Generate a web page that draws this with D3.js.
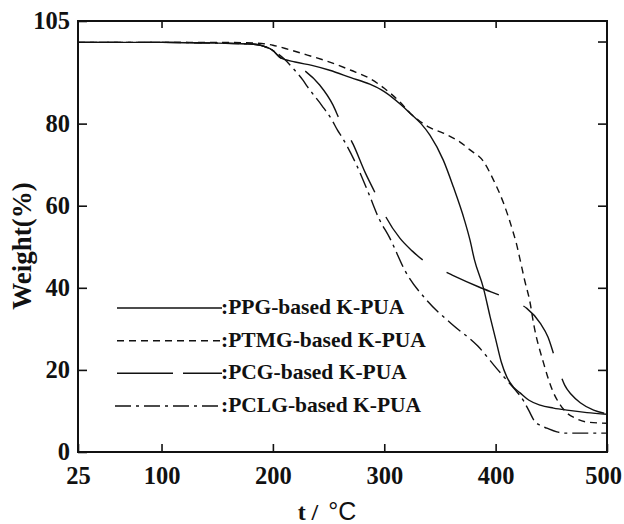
<!DOCTYPE html>
<html>
<head>
<meta charset="utf-8">
<script src="https://d3js.org/d3.v7.min.js"></script>
<style>
body { margin: 0; background: #fff; }
svg text { font-family: "Liberation Serif", "Times New Roman", serif; font-weight: bold; fill: #111; }
.curve { fill: none; stroke: #111; stroke-width: 1.4; }
</style>
</head>
<body>
<svg width="624" height="524"></svg>
<script>

// weight loss curves, [temperature C, weight %]
var xTicks = [25, 100, 200, 300, 400, 500];
var yTicks = [0, 20, 40, 60, 80, 105];
var names = [":PPG-based K-PUA", ":PTMG-based K-PUA", ":PCG-based K-PUA", ":PCLG-based K-PUA"];

var ppg = [[25,99.8],[100,99.8],[150,99.6],[180,99.4],[190,99],[200,97.8],[206,96.2],[220,95],[235,94.2],
  [251,93],[270,91.2],[287,89.6],[300,87.8],[315,84.6],[323,82.6],[333,80],[341,77.2],[353,71.1],[362,64.6],
  [372,56.5],[377,51.6],[381,46.8],[389,40],[395,33],[400,27.5],[405,22],[410,18.3],[416,15.8],[422,14.4],
  [430,12.6],[440,11.4],[452,10.7],[464,10.2],[482,9.6],[500,9.2]];
var ptmg = [[25,99.8],[100,99.8],[150,99.8],[185,99.6],[200,99.1],[215,98],[231,96.7],[251,95],[270,93],
  [287,91],[300,88.6],[315,85],[323,82.6],[330,81],[341,79],[353,77.7],[368,75.5],[377,73.6],[389,70.8],
  [398,66.3],[407,60.7],[416,53.3],[419,50.4],[422,46.8],[426,41.9],[431,36.3],[434,31.4],[443,21.7],
  [452,14.4],[458,11.5],[464,9.5],[472,8.2],[482,7.3],[500,7.0]];
var pcg = [[25,99.8],[100,99.8],[150,99.6],[180,99.4],[190,99],[200,97.8],[206,96.2],[215,95],[229,92.8],
  [242,89.4],[254,84.5],[260,80.9],[272,75],[283,68],[292,63],[302,57],[314,52.1],[325,49],[335,46.7],
  [348,44.8],[361,43.1],[385,40.2],[407,37.8],[418,36.5],[428,35],[440,31.4],[447,28],[453,23.1],[458,19],
  [462,16.3],[468,14],[476,12],[488,10.2],[500,9.3]];
var pclg = [[25,99.8],[100,99.8],[150,99.6],[180,99.4],[190,99],[200,97.8],[210,95.8],[218,93.5],[227,90.6],
  [231,89],[244,84.4],[253,80.9],[258,78.4],[262,76.7],[275,70],[286,63],[295,57],[305,52.1],[319,44],
  [338,37],[360,31.3],[384,25.8],[402,20],[410,17.5],[418,15],[425,12.5],[430,10],[435,7.5],[440,6.5],
  [446,5.8],[455,4.9],[462,4.6],[487,4.6],[500,4.6]];

var series = [ppg, ptmg, pcg, pclg];
var plotDash = ["none", "7,5", "57,27", "16,5,3,5"];
var legendDash = ["none", "7,5", "56,10", "16,5,3,5"];

var svg = d3.select("svg");
var x = d3.scaleLinear().domain([25, 500]).range([78, 607]);
var y = d3.scaleLinear().domain([0, 105]).range([452, 21]);

var line = d3.line()
  .x(function(d) { return x(d[0]); })
  .y(function(d) { return y(d[1]); })
  .curve(d3.curveMonotoneX);

// curves
var paths = svg.append("g").selectAll("path").data(series).enter().append("path")
  .attr("class", "curve")
  .attr("d", line)
  .attr("stroke-dasharray", function(d, i) { return plotDash[i]; });

// line up the long-dash phase of the PCG curve so a dash starts where it leaves the others
var pcgNode = paths.nodes()[2];
var total = pcgNode.getTotalLength(), lo = 0, hi = total;
for (var k = 0; k < 30; k++) {
  var mid = (lo + hi) / 2;
  if (pcgNode.getPointAtLength(mid).x < x(229)) lo = mid; else hi = mid;
}
d3.select(pcgNode).attr("stroke-dashoffset", -lo);

// axes
function style(g) {
  g.select(".domain").remove();
  g.selectAll(".tick line").attr("stroke", "#111").attr("stroke-width", 1.6);
  g.selectAll("text").attr("font-family", null).attr("font-size", null)
    .style("font-size", "24.5px");
}
var xAxis = svg.append("g").attr("transform", "translate(0,452)")
  .call(d3.axisBottom(x).tickValues(xTicks).tickSizeInner(-8).tickSizeOuter(0).tickPadding(15))
  .call(style);
// last label sits just inside the page edge
xAxis.selectAll(".tick text").filter(function(d) { return d == 500; }).attr("dx", -4);

svg.append("g").attr("transform", "translate(0,21)")
  .call(d3.axisTop(x).tickValues(xTicks.slice(1, 5)).tickSizeInner(-7).tickSizeOuter(0).tickFormat(""))
  .call(style);
svg.append("g").attr("transform", "translate(78,0)")
  .call(d3.axisLeft(y).tickValues(yTicks).tickSizeInner(-9).tickSizeOuter(0).tickPadding(8))
  .call(style);
svg.append("g").attr("transform", "translate(607,0)")
  .call(d3.axisRight(y).tickValues([20, 40, 60, 80, 100]).tickSizeInner(-9).tickSizeOuter(0).tickFormat(""))
  .call(style);

// frame
svg.append("rect")
  .attr("x", x(25)).attr("y", y(105))
  .attr("width", x(500) - x(25)).attr("height", y(0) - y(105))
  .attr("fill", "none").attr("stroke", "#111").attr("stroke-width", 2);

// axis titles
svg.append("text")
  .attr("transform", "translate(31," + 246 + ") rotate(-90)")
  .attr("text-anchor", "middle")
  .style("font-size", "27px")
  .text("Weight(%)");

var xt = svg.append("text")
  .attr("x", 327).attr("y", 520)
  .attr("text-anchor", "middle")
  .style("font-size", "24px");
xt.append("tspan").text("t /");
xt.append("tspan").attr("dx", 10)
  .style("font-family", "'Liberation Sans', Arial, sans-serif").style("font-weight", "normal")
  .style("font-size", "25px").text("°C");

// legend
var ly = d3.scalePoint().domain(names).range([308, 406]);
var leg = svg.append("g").selectAll("g").data(names).enter().append("g")
  .attr("transform", function(d) { return "translate(0," + ly(d) + ")"; });
leg.append("line")
  .attr("x1", function(d, i) { return i == 3 ? 115 : 117; }).attr("x2", 222)
  .attr("stroke", "#111").attr("stroke-width", 1.5)
  .attr("stroke-dasharray", function(d, i) { return legendDash[i]; });
leg.append("text")
  .attr("x", 221).attr("y", 6)
  .style("font-size", "21.5px")
  .text(function(d) { return d; });

</script>
</body>
</html>
